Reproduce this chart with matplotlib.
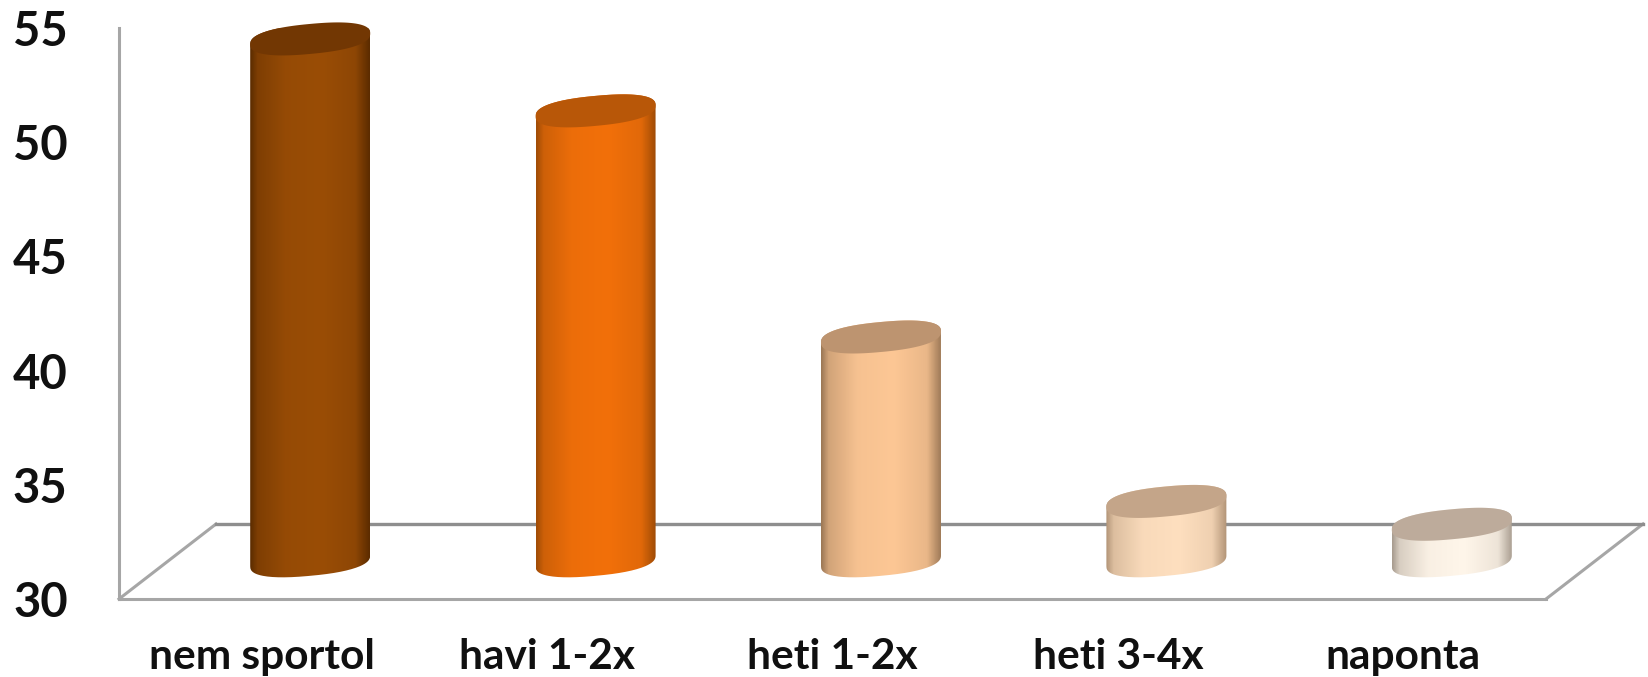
import numpy as np
import matplotlib
matplotlib.use("Agg")
import matplotlib.pyplot as plt
from matplotlib.colors import LinearSegmentedColormap, to_rgb
from matplotlib.patches import PathPatch, Polygon
from matplotlib.path import Path

categories = ["nem sportol", "havi 1-2x", "heti 1-2x", "heti 3-4x", "naponta"]
values = [52.85, 49.7, 39.8, 32.6, 31.6]
y_ticks = [30, 35, 40, 45, 50, 55]

mid_colors = ["#9a4d06", "#f2700a", "#fdc795", "#fedfbf", "#fff6ea"]
edge_colors = ["#5c2c00", "#a04c06", "#9c7856", "#b39578", "#a89c8f"]
top_colors = ["#723703", "#b85708", "#bd9470", "#c4a589", "#bdab9b"]

W, H = 1649, 677
AX_LEFT, AX_RIGHT, AX_TOP, AX_BOTTOM = 119, 1546, 28, 599
DEPTH_X, DEPTH_Y = 97, 75  # floor depth in pixels
BAR_W = 120
ELL_B = 15  # half height of the cylinder ends
ELL_K = 5.5  # how much the ends lean, right side up

fig = plt.figure(figsize=(W / 100, H / 100), dpi=100)
ax = fig.add_axes([AX_LEFT / W, 1 - AX_BOTTOM / H, (AX_RIGHT - AX_LEFT) / W, (AX_BOTTOM - AX_TOP) / H])
ax.set_xlim(-0.5, 4.5)
ax.set_ylim(30, 55)

# pixels per data unit
sx = (AX_RIGHT - AX_LEFT) / 5
sy = (AX_BOTTOM - AX_TOP) / 25

depth_x = DEPTH_X / sx
depth_y = DEPTH_Y / sy
floor_y = 30 + depth_y
ax.plot([-0.5, -0.5 + depth_x], [30, floor_y], color="#a6a6a6", lw=2.2, clip_on=False, zorder=1)
ax.plot([4.5, 4.5 + depth_x], [30, floor_y], color="#a6a6a6", lw=2.2, clip_on=False, zorder=1)
ax.plot([-0.5 + depth_x, 4.5 + depth_x], [floor_y, floor_y], color="#8e8e8e", lw=2.4, clip_on=False, zorder=1)


def blend(c1, c2, f):
    return tuple((1 - f) * np.array(to_rgb(c1)) + f * np.array(to_rgb(c2)))


def end_points(cx, cy, t):
    # cylinder end in pixels (sheared, slightly squared ellipse), back in data units
    c = np.cos(t)
    s = np.sin(t)
    px = BAR_W / 2 * np.sign(c) * np.abs(c) ** 0.85
    py = ELL_B * np.sign(s) * np.abs(s) ** 0.8 + ELL_K * px / (BAR_W / 2)
    return cx + px / sx, cy + py / sy


base = 30 + depth_y / 2 + 0.03
for i, v in enumerate(values):
    cx = i + depth_x / 2
    top = base + (v - 30)

    # lower arc of the base, then up to the top end
    bx, by = end_points(cx, base, np.linspace(np.pi, 2 * np.pi, 80))
    tx, ty = end_points(cx, top, np.linspace(0, np.pi, 80))
    body = np.column_stack([np.r_[bx, tx], np.r_[by, ty]])
    clip = PathPatch(Path(np.vstack([body, body[0]])), fc="none", ec="none", transform=ax.transData)
    ax.add_patch(clip)

    m, e = mid_colors[i], edge_colors[i]
    cmap = LinearSegmentedColormap.from_list(
        "cyl",
        [(0, e), (0.06, blend(e, m, 0.55)), (0.3, blend(e, m, 0.93)), (0.6, m), (0.88, blend(e, m, 0.8)), (1, e)],
    )
    half = BAR_W / 2 / sx
    im = ax.imshow(
        np.linspace(0, 1, 200).reshape(1, -1), cmap=cmap, aspect="auto", zorder=2,
        extent=[cx - half, cx + half, by.min() - 0.2, ty.max() + 0.2], interpolation="bilinear",
    )
    im.set_clip_path(clip)

    ex, ey = end_points(cx, top, np.linspace(0, 2 * np.pi, 160))
    ax.add_patch(Polygon(np.column_stack([ex, ey]), closed=True, fc=top_colors[i], ec="none", zorder=3, clip_on=False))

ax.set_xlim(-0.5, 4.5)
ax.set_ylim(30, 55)
ax.patch.set_alpha(0)

for side in ["top", "right"]:
    ax.spines[side].set_visible(False)
for side in ["left", "bottom"]:
    ax.spines[side].set_color("#a6a6a6")
    ax.spines[side].set_linewidth(2.2)

ax.set_xticks(range(5))
ax.set_xticklabels(categories, fontsize=30.5, fontweight="bold", family="Lato", color="#101010")
ax.set_yticks(y_ticks)
ax.set_yticklabels(y_ticks, fontsize=34, fontweight="bold", family="Lato", color="#101010")
ax.tick_params(axis="x", length=0, pad=28)
ax.tick_params(axis="y", length=0, pad=37)

fig.savefig("out.png", dpi=100, facecolor="white")
